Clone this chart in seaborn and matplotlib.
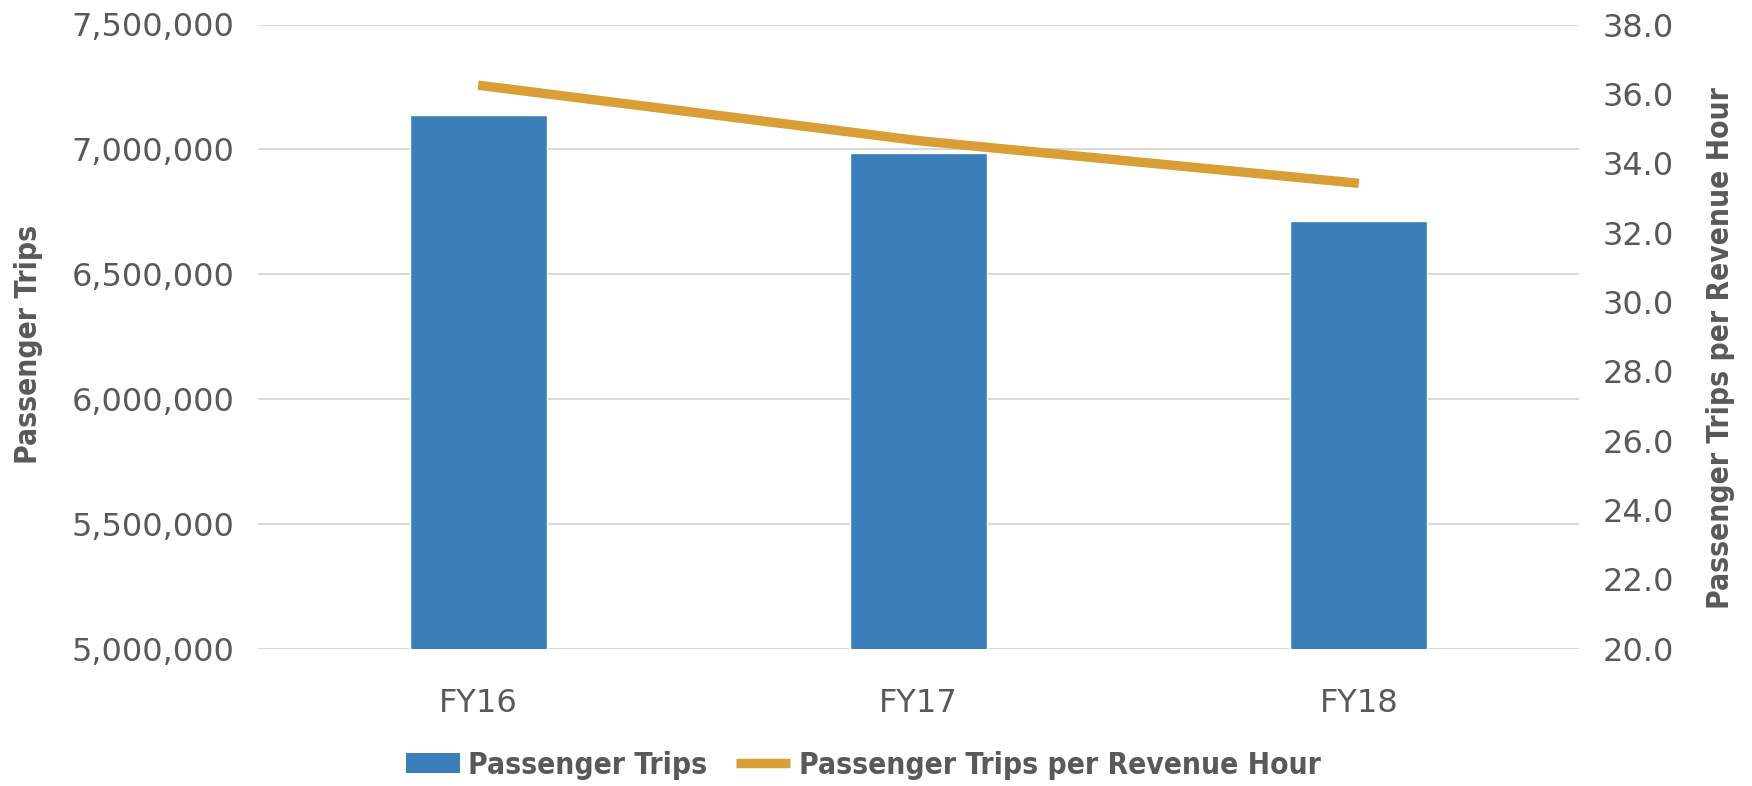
import numpy as np
import pandas as pd
import matplotlib
matplotlib.use("Agg")
import matplotlib.pyplot as plt
import seaborn as sns
from matplotlib import font_manager
from matplotlib.font_manager import FontProperties
from matplotlib.patches import Patch
from matplotlib.lines import Line2D
from matplotlib.ticker import FuncFormatter, MultipleLocator

categories = ["FY16", "FY17", "FY18"]
passenger_trips = [7136000, 6985000, 6714000]
trips_per_rev_hour = [36.25, 34.65, 33.42]

bar_label = "Passenger Trips"
line_label = "Passenger Trips per Revenue Hour"
left_ylabel = "Passenger Trips"
right_ylabel = "Passenger Trips per Revenue Hour"

BLUE = "#3A7FBA"
ORANGE = "#D99E35"
GRAY = "#595959"
GRID = "#D9D9D9"

sns.set_theme(style="white")
plt.rcParams["font.family"] = ["DejaVu Sans"]


def pick_condensed_bold():
    best = None
    for f in font_manager.fontManager.ttflist:
        nm = (f.name + " " + str(f.fname)).lower()
        st = str(f.stretch).lower()
        cond = ("condensed" in nm) or ("narrow" in nm) or ("condensed" in st)
        w = f.weight if isinstance(f.weight, (int, float)) else (700 if "bold" in str(f.weight).lower() else 400)
        if cond and w >= 600 and "mono" not in nm and "serif" not in f.name.lower():
            score = 0
            if "extra" in nm or "ultra" in nm:
                score -= 1
            if "italic" in nm or "oblique" in nm:
                continue
            if best is None or score > best[0]:
                best = (score, f.fname)
    if best:
        return FontProperties(fname=best[1])
    return FontProperties(family="DejaVu Sans", weight="bold")


BOLD = pick_condensed_bold()

fig = plt.figure(figsize=(17.52, 7.86), dpi=100)
ax = fig.add_axes([258 / 1752, 1 - 648.7 / 786, (1579 - 258) / 1752, (648.7 - 24.5) / 786])

df = pd.DataFrame({"cat": categories, "trips": passenger_trips, "ratio": trips_per_rev_hour})

sns.barplot(data=df, x="cat", y="trips", color=BLUE, width=0.311, saturation=1,
            ax=ax, zorder=3)
ax.set_xlim(-0.5, len(categories) - 0.5)
ax.set_ylim(5000000, 7500000)
ax.yaxis.set_major_locator(MultipleLocator(500000))
ax.yaxis.set_major_formatter(FuncFormatter(lambda v, p: f"{int(v):,}"))
ax.yaxis.grid(True, color=GRID, linewidth=1.5, zorder=0)
ax.set_axisbelow(True)
for s in ax.spines.values():
    s.set_visible(False)
ax.tick_params(axis="both", length=0, labelsize=23, labelcolor=GRAY)
ax.tick_params(axis="y", pad=17)
ax.tick_params(axis="x", pad=28)
ax.set_xlabel("")

ax2 = ax.twinx()
sns.lineplot(x=np.arange(len(categories)), y=df["ratio"].to_numpy(), color=ORANGE,
             linewidth=6.8, ax=ax2, solid_capstyle="butt")
ax2.set_ylim(20, 38)
ax2.yaxis.set_major_locator(MultipleLocator(2))
ax2.yaxis.set_major_formatter(FuncFormatter(lambda v, p: f"{v:.1f}"))
for s in ax2.spines.values():
    s.set_visible(False)
ax2.tick_params(axis="y", length=0, labelsize=23, labelcolor=GRAY, pad=17)
ax2.grid(False)
ax2.set_xlim(-0.5, len(categories) - 0.5)

# fit bold label size so text length matches the reference (240 px for "Passenger Trips")
renderer = fig.canvas.get_renderer()
probe = fig.text(0, 0, left_ylabel, fontproperties=BOLD, fontsize=25)
w = probe.get_window_extent(renderer).width
probe.remove()
fs = 25 * 240 / w

lp = BOLD.copy()
lp.set_size(fs)
ax.set_ylabel(left_ylabel, fontproperties=lp, color=GRAY)
ax.yaxis.set_label_coords(-215 / 1321, 0.487)
ax2.set_ylabel(right_ylabel, fontproperties=lp, color=GRAY, rotation=90)
ax2.yaxis.set_label_coords(1 + (1706 - 1579) / 1321, 0.482)

fs_px = fs * 100 / 72
handles = [Patch(facecolor=BLUE, edgecolor="none"),
           Line2D([0], [0], color=ORANGE, linewidth=6.8, solid_capstyle="butt")]
leg = fig.legend(handles, [bar_label, line_label], loc="center",
                 bbox_to_anchor=(863 / 1752, 1 - 765 / 786), ncol=2, frameon=False,
                 prop=lp, handlelength=54 / fs_px, handleheight=19 / fs_px,
                 handletextpad=9 / fs_px, columnspacing=28 / fs_px,
                 borderpad=0, borderaxespad=0)
for t in leg.get_texts():
    t.set_color(GRAY)

fig.savefig("out.png", dpi=100)
